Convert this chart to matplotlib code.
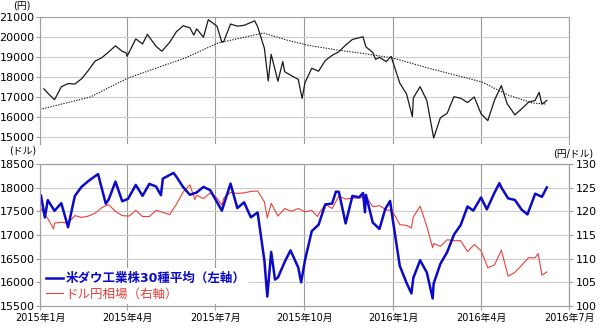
import pandas as pd
import matplotlib
matplotlib.use("Agg")
import matplotlib.pyplot as plt
from matplotlib.lines import Line2D

plt.rcParams['font.family'] = ['DejaVu Sans', 'Noto Sans CJK JP']

# 日経平均 (円)
nikkei_dates = [
    "2015-01-05", "2015-01-09", "2015-01-16", "2015-01-23", "2015-01-30", "2015-02-06",
    "2015-02-13", "2015-02-20", "2015-02-27", "2015-03-06", "2015-03-13", "2015-03-20",
    "2015-03-27", "2015-03-31", "2015-04-01", "2015-04-10", "2015-04-17", "2015-04-22",
    "2015-05-01", "2015-05-07", "2015-05-15", "2015-05-22", "2015-05-29", "2015-06-05",
    "2015-06-09", "2015-06-12", "2015-06-19", "2015-06-24", "2015-07-03", "2015-07-08",
    "2015-07-10", "2015-07-17", "2015-07-24", "2015-07-31", "2015-08-11", "2015-08-14",
    "2015-08-21", "2015-08-25", "2015-08-28", "2015-09-04", "2015-09-09", "2015-09-11",
    "2015-09-18", "2015-09-25", "2015-09-29", "2015-10-02", "2015-10-09", "2015-10-16",
    "2015-10-23", "2015-10-30", "2015-11-06", "2015-11-13", "2015-11-20", "2015-12-01",
    "2015-12-04", "2015-12-11", "2015-12-14", "2015-12-18", "2015-12-25", "2015-12-30",
    "2016-01-08", "2016-01-15", "2016-01-21", "2016-01-22", "2016-01-29", "2016-02-05",
    "2016-02-12", "2016-02-19", "2016-02-26", "2016-03-04", "2016-03-11", "2016-03-18",
    "2016-03-25", "2016-04-01", "2016-04-08", "2016-04-15", "2016-04-22", "2016-04-28",
    "2016-05-06", "2016-05-13", "2016-05-20", "2016-05-27", "2016-05-31", "2016-06-03",
    "2016-06-08",
]
nikkei = [
    17408, 17197, 16864, 17511, 17674, 17648,
    17913, 18332, 18797, 18971, 19254, 19560,
    19285, 19207, 19035, 19907, 19652, 20133,
    19531, 19292, 19733, 20264, 20563, 20460,
    20096, 20407, 19990, 20868, 20539, 19737,
    19779, 20650, 20544, 20585, 20808, 20519,
    19435, 17806, 19136, 17792, 18770, 18264,
    18070, 17880, 16930, 17725, 18438, 18291,
    18825, 19083, 19265, 19596, 19879, 20012,
    19504, 19230, 18883, 18986, 18769, 19033,
    17697, 17147, 16017, 16958, 17518, 16819,
    14952, 15967, 16188, 17014, 16938, 16724,
    17002, 16164, 15821, 16848, 17572, 16666,
    16106, 16412, 16736, 16834, 17234, 16642,
    16830,
]

# 移動平均 (点線)
ma_dates = [
    "2015-01-01", "2015-02-22", "2015-04-02", "2015-05-31", "2015-07-04", "2015-08-20",
    "2015-09-13", "2015-10-04", "2015-11-04", "2015-11-28", "2016-01-01", "2016-02-06",
    "2016-04-02", "2016-04-29", "2016-05-24", "2016-06-08",
]
nikkei_ma = [
    16380, 17000, 17950, 18950, 19700, 20200,
    19850, 19600, 19350, 19200, 18950, 18450,
    17750, 17100, 16700, 16650,
]

# 米ダウ工業株30種平均 (ドル)
dow_dates = [
    "2015-01-02", "2015-01-06", "2015-01-09", "2015-01-16", "2015-01-23", "2015-01-30",
    "2015-02-06", "2015-02-13", "2015-02-20", "2015-03-02", "2015-03-10", "2015-03-13",
    "2015-03-20", "2015-03-27", "2015-04-02", "2015-04-10", "2015-04-17", "2015-04-24",
    "2015-05-01", "2015-05-06", "2015-05-08", "2015-05-19", "2015-05-22", "2015-05-29",
    "2015-06-05", "2015-06-12", "2015-06-19", "2015-06-26", "2015-07-02", "2015-07-08",
    "2015-07-17", "2015-07-24", "2015-07-31", "2015-08-07", "2015-08-14", "2015-08-21",
    "2015-08-24", "2015-08-28", "2015-09-01", "2015-09-04", "2015-09-11", "2015-09-17",
    "2015-09-25", "2015-09-28", "2015-10-02", "2015-10-09", "2015-10-16", "2015-10-23",
    "2015-10-30", "2015-11-03", "2015-11-06", "2015-11-13", "2015-11-20", "2015-11-27",
    "2015-12-01", "2015-12-03", "2015-12-04", "2015-12-11", "2015-12-18", "2015-12-24",
    "2015-12-29", "2015-12-31", "2016-01-08", "2016-01-15", "2016-01-20", "2016-01-22",
    "2016-01-29", "2016-02-05", "2016-02-11", "2016-02-12", "2016-02-19", "2016-02-26",
    "2016-03-04", "2016-03-11", "2016-03-18", "2016-03-24", "2016-04-01", "2016-04-07",
    "2016-04-15", "2016-04-20", "2016-04-22", "2016-04-29", "2016-05-06", "2016-05-13",
    "2016-05-19", "2016-05-27", "2016-06-03", "2016-06-08",
]
dow = [
    17833, 17371, 17737, 17512, 17673, 17165,
    17825, 18019, 18140, 18288, 17662, 17749,
    18128, 17713, 17763, 18058, 17827, 18080,
    18025, 17841, 18191, 18312, 18232, 18011,
    17849, 17899, 18016, 17947, 17730, 17515,
    18086, 17569, 17690, 17373, 17477, 16460,
    15700, 16643, 16058, 16102, 16433, 16675,
    16315, 16001, 16472, 17084, 17216, 17647,
    17664, 17918, 17910, 17245, 17824, 17798,
    17888, 17478, 17848, 17265, 17128, 17552,
    17720, 17425, 16346, 15988, 15766, 16094,
    16466, 16205, 15660, 15974, 16392, 16640,
    17007, 17213, 17602, 17516, 17793, 17542,
    17898, 18096, 18004, 17774, 17741, 17535,
    17435, 17873, 17807, 18005,
]

# ドル円相場 (円/ドル)
usdjpy_dates = [
    "2015-01-02", "2015-01-09", "2015-01-15", "2015-01-16", "2015-01-23", "2015-01-30",
    "2015-02-06", "2015-02-13", "2015-02-20", "2015-02-27", "2015-03-06", "2015-03-10",
    "2015-03-13", "2015-03-20", "2015-03-27", "2015-04-03", "2015-04-10", "2015-04-17",
    "2015-04-24", "2015-05-01", "2015-05-08", "2015-05-15", "2015-05-22", "2015-05-29",
    "2015-06-05", "2015-06-10", "2015-06-12", "2015-06-19", "2015-06-26", "2015-07-03",
    "2015-07-08", "2015-07-10", "2015-07-17", "2015-07-24", "2015-07-31", "2015-08-07",
    "2015-08-14", "2015-08-21", "2015-08-24", "2015-08-28", "2015-09-04", "2015-09-11",
    "2015-09-18", "2015-09-25", "2015-10-02", "2015-10-09", "2015-10-15", "2015-10-16",
    "2015-10-23", "2015-10-30", "2015-11-06", "2015-11-13", "2015-11-20", "2015-11-27",
    "2015-12-04", "2015-12-11", "2015-12-18", "2015-12-25", "2015-12-31", "2016-01-08",
    "2016-01-15", "2016-01-20", "2016-01-22", "2016-01-29", "2016-02-05", "2016-02-11",
    "2016-02-12", "2016-02-19", "2016-02-26", "2016-03-04", "2016-03-11", "2016-03-18",
    "2016-03-25", "2016-04-01", "2016-04-08", "2016-04-15", "2016-04-22", "2016-04-29",
    "2016-05-06", "2016-05-13", "2016-05-20", "2016-05-27", "2016-05-30", "2016-06-03",
    "2016-06-08",
]
usdjpy = [
    120.5, 118.5, 116.3, 117.5, 117.7, 117.5,
    119.1, 118.7, 119.0, 119.6, 120.8, 121.2,
    121.4, 120.0, 119.1, 119.0, 120.2, 118.9,
    118.9, 120.2, 119.8, 119.3, 121.5, 124.1,
    125.6, 122.5, 123.4, 122.7, 123.9, 122.8,
    121.3, 122.8, 124.0, 123.8, 123.9, 124.2,
    124.3, 122.0, 118.6, 121.7, 119.0, 120.6,
    120.0, 120.6, 119.9, 120.2, 118.9, 119.4,
    121.5, 120.6, 123.2, 122.6, 122.8, 122.8,
    123.1, 121.0, 121.2, 120.3, 120.2, 117.2,
    117.0, 116.5, 118.8, 121.1, 116.8, 112.3,
    113.2, 112.6, 114.0, 113.8, 113.8, 111.5,
    113.0, 111.7, 108.1, 108.7, 111.8, 106.3,
    107.1, 108.6, 110.2, 110.2, 111.1, 106.5,
    107.2,
]

quarters = ["2015-01-01", "2015-04-01", "2015-07-01", "2015-10-01",
            "2016-01-01", "2016-04-01", "2016-07-01"]
quarter_labels = ["2015年1月", "2015年4月", "2015年7月", "2015年10月",
                  "2016年1月", "2016年4月", "2016年7月"]

q = pd.to_datetime(quarters)
grid_v = "#999999"
grid_h = "#cccccc"
spine_c = "#a0a0a0"
ytick_fs = 8
xtick_fs = 7

fig = plt.figure(figsize=(6, 3.3), dpi=100)

# --- 上段: 日経平均 ---
ax1 = fig.add_axes([0.0667, 0.5636, 0.8817, 0.3848])
ax1.plot(pd.to_datetime(nikkei_dates), nikkei, color="#1a1a1a", lw=0.9)
ax1.plot(pd.to_datetime(ma_dates), nikkei_ma, color="#1a1a1a", lw=0.8,
         linestyle=(0, (1.2, 1.2)))
ax1.set_xlim(q[0], q[-1])
ax1.set_ylim(14650, 21000)
ax1.set_yticks(range(15000, 21001, 1000))
ax1.set_xticks(q)
ax1.set_xticklabels([])
ax1.tick_params(axis="x", length=0)
ax1.tick_params(axis="y", length=3, color=spine_c, labelsize=ytick_fs, pad=1)
ax1.yaxis.grid(True, color=grid_h, lw=0.8)
ax1.xaxis.grid(True, color=grid_v, lw=0.8)
ax1.set_axisbelow(True)
ax1.spines["bottom"].set_visible(False)
for s in ["top", "left", "right"]:
    ax1.spines[s].set_color(spine_c)
    ax1.spines[s].set_linewidth(0.8)

# --- 下段: ダウ (左) とドル円 (右) ---
rect = [0.0667, 0.0727, 0.8817, 0.4303]
ax2 = fig.add_axes(rect)
ax3 = ax2.twinx()
ax2.set_zorder(ax3.get_zorder() + 1)
ax2.patch.set_visible(False)

ax3.plot(pd.to_datetime(usdjpy_dates), usdjpy, color="#e8403a", lw=0.8)
ax2.plot(pd.to_datetime(dow_dates), dow, color="#0a0ac8", lw=1.8)

ax2.set_xlim(q[0], q[-1])
ax2.set_ylim(15500, 18500)
ax2.set_yticks(range(15500, 18501, 500))
ax3.set_ylim(100, 130)
ax3.set_yticks(range(100, 131, 5))
ax2.set_xticks(q)
ax2.set_xticklabels(quarter_labels)

ax3.yaxis.grid(True, color=grid_h, lw=0.8)
for d in q:
    ax3.axvline(d, color=grid_v, lw=0.8, zorder=0)

ax2.tick_params(axis="y", length=3, color=spine_c, labelsize=ytick_fs, pad=1)
ax2.tick_params(axis="x", length=3, color=spine_c, labelsize=xtick_fs, pad=2)
ax3.tick_params(axis="y", length=3, color=spine_c, labelsize=ytick_fs, pad=2)
for a in (ax2, ax3):
    for s in a.spines.values():
        s.set_color(spine_c)
        s.set_linewidth(0.8)

handles = [Line2D([], [], color="#0a0ac8", lw=1.8),
           Line2D([], [], color="#e8403a", lw=0.8)]
leg = ax2.legend(handles, ["米ダウ工業株30種平均（左軸）", "ドル円相場（右軸）"],
                 loc="lower left", bbox_to_anchor=(0.0, 0.0), borderaxespad=0.15,
                 frameon=True, facecolor="white", edgecolor="none", framealpha=1,
                 fancybox=False, fontsize=9, handlelength=1.4, handletextpad=0.2,
                 labelspacing=0.2, borderpad=0.3,
                 labelcolor=["#0a0ac8", "#e8403a"])
leg.get_texts()[0].set_fontweight("bold")

fig.text(13 / 600, 1 - 6 / 330, "(円)", fontsize=7, va="center")
fig.text(9 / 600, 1 - 151 / 330, "(ドル)", fontsize=7, va="center")
fig.text(553 / 600, 1 - 153 / 330, "(円/ドル)", fontsize=7, va="center")

fig.savefig("out.png", dpi=100)
